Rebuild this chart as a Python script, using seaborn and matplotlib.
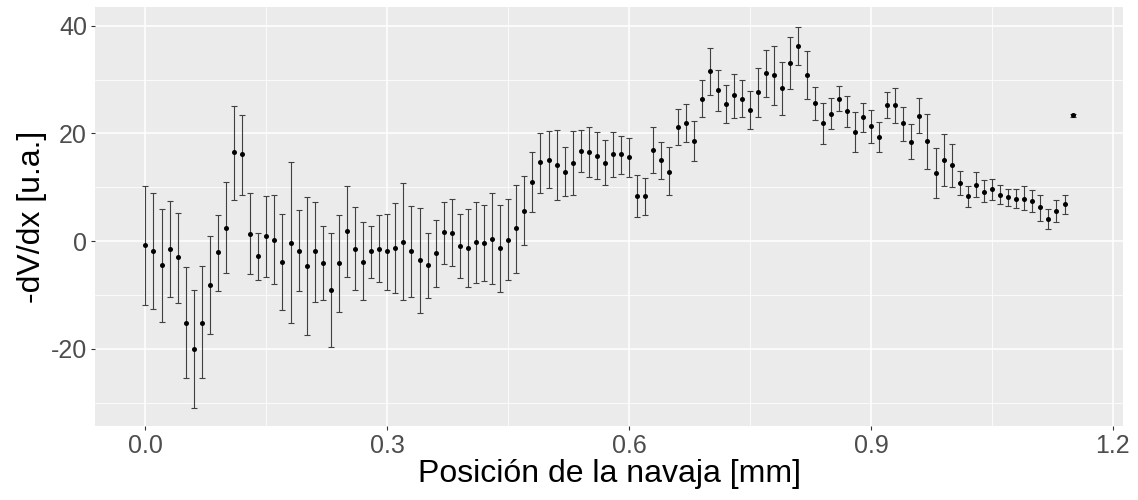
import numpy as np
import pandas as pd
import matplotlib
matplotlib.use("Agg")
import matplotlib.pyplot as plt
import seaborn as sns
from matplotlib.ticker import MultipleLocator

# ---- data ----
posicion = [0.00, 0.01, 0.02, 0.03, 0.04, 0.05, 0.06, 0.07, 0.08, 0.09,
            0.10, 0.11, 0.12, 0.13, 0.14, 0.15, 0.16, 0.17, 0.18, 0.19,
            0.20, 0.21, 0.22, 0.23, 0.24, 0.25, 0.26, 0.27, 0.28, 0.29,
            0.30, 0.31, 0.32, 0.33, 0.34, 0.35, 0.36, 0.37, 0.38, 0.39,
            0.40, 0.41, 0.42, 0.43, 0.44, 0.45, 0.46, 0.47, 0.48, 0.49,
            0.50, 0.51, 0.52, 0.53, 0.54, 0.55, 0.56, 0.57, 0.58, 0.59,
            0.60, 0.61, 0.62, 0.63, 0.64, 0.65, 0.66, 0.67, 0.68, 0.69,
            0.70, 0.71, 0.72, 0.73, 0.74, 0.75, 0.76, 0.77, 0.78, 0.79,
            0.80, 0.81, 0.82, 0.83, 0.84, 0.85, 0.86, 0.87, 0.88, 0.89,
            0.90, 0.91, 0.92, 0.93, 0.94, 0.95, 0.96, 0.97, 0.98, 0.99,
            1.00, 1.01, 1.02, 1.03, 1.04, 1.05, 1.06, 1.07, 1.08, 1.09,
            1.10, 1.11, 1.12, 1.13, 1.14, 1.15]

dvdx = [-0.8, -1.85, -4.5, -1.4, -3.0, -15.1, -20.0, -15.1, -8.1, -2.1,
        2.5, 16.5, 16.1, 1.4, -2.8, 0.9, 0.2, -3.8, -0.3, -1.8,
        -4.6, -1.9, -4.0, -9.0, -4.1, 1.8, -1.4, -3.8, -1.9, -1.4,
        -1.9, -1.2, -0.1, -1.85, -3.5, -4.5, -2.2, 1.7, 1.55, -0.9,
        -1.2, -0.2, -0.3, 0.4, -1.2, 0.3, 2.4, 5.6, 11.0, 14.7,
        15.1, 14.2, 12.9, 14.55, 16.8, 16.5, 15.85, 14.55, 16.1, 16.1,
        15.6, 8.3, 8.3, 17.0, 15.0, 12.8, 21.2, 22.0, 18.6, 26.4,
        31.5, 28.0, 25.5, 27.1, 26.4, 24.3, 27.6, 31.3, 30.8, 28.5,
        33.1, 36.2, 30.8, 25.6, 21.9, 23.65, 26.4, 24.15, 20.2, 23.0,
        21.3, 19.3, 25.3, 25.2, 21.9, 18.45, 23.3, 18.6, 12.7, 15.0,
        14.1, 10.8, 8.3, 10.5, 9.2, 9.7, 8.6, 8.2, 7.9, 7.9,
        7.5, 6.3, 4.1, 5.6, 6.9, 23.35]

dvdx_min = [-11.8, -12.6, -15.0, -10.3, -11.4, -25.4, -30.9, -25.4, -17.3, -9.2,
            -5.9, 7.7, 8.6, -6.0, -7.2, -6.6, -8.0, -12.7, -15.2, -9.3,
            -17.5, -11.2, -10.9, -19.7, -13.2, -6.7, -9.0, -11.0, -6.8, -7.6,
            -9.0, -9.7, -10.9, -10.3, -13.3, -10.6, -8.5, -4.2, -4.6, -6.9,
            -8.5, -7.7, -7.3, -7.9, -9.4, -7.2, -5.9, -0.8, 5.4, 9.0,
            9.8, 7.7, 8.4, 8.6, 12.9, 11.95, 11.5, 10.5, 11.9, 12.45,
            11.9, 4.4, 4.8, 12.6, 11.6, 8.5, 17.9, 18.45, 14.9, 23.1,
            27.2, 24.2, 22.0, 22.9, 23.1, 20.8, 23.1, 26.8, 25.3, 23.5,
            28.3, 32.75, 26.3, 22.5, 18.1, 20.8, 24.1, 21.1, 16.6, 20.3,
            18.3, 16.6, 22.85, 21.9, 18.6, 15.3, 20.1, 13.4, 8.1, 10.3,
            10.0, 8.5, 6.3, 8.2, 7.2, 7.7, 6.9, 6.6, 6.2, 5.7,
            5.4, 3.7, 2.3, 3.6, 5.1, 23.05]

dvdx_max = [10.2, 8.9, 6.0, 7.5, 5.3, -4.8, -9.1, -4.6, 1.0, 4.9,
            10.9, 25.1, 23.4, 8.9, 1.6, 8.4, 8.5, 5.1, 14.6, 5.7,
            8.2, 7.3, 2.9, 1.6, 4.8, 10.2, 6.3, 3.6, 2.9, 4.9,
            5.1, 7.1, 10.8, 6.6, 6.2, 1.6, 4.0, 7.3, 7.8, 5.1,
            6.0, 7.2, 6.7, 8.9, 6.8, 7.8, 10.5, 12.1, 16.5, 20.1,
            20.4, 20.6, 17.4, 20.4, 20.7, 21.2, 20.3, 18.8, 20.25, 19.5,
            19.2, 12.2, 11.8, 21.2, 18.4, 17.4, 24.5, 25.45, 22.35, 29.9,
            35.85, 31.8, 29.0, 31.1, 29.9, 27.9, 32.1, 35.5, 36.2, 33.25,
            37.8, 39.8, 35.2, 28.7, 25.6, 26.6, 28.8, 27.0, 24.0, 25.7,
            24.3, 22.1, 27.7, 28.4, 24.9, 21.7, 26.6, 23.6, 17.3, 19.8,
            18.0, 13.1, 10.2, 12.8, 11.3, 11.6, 10.4, 9.7, 9.7, 10.2,
            9.5, 8.6, 6.0, 7.7, 8.5, 23.65]

x_ticks = [0.0, 0.3, 0.6, 0.9, 1.2]
x_ticklabels = ["0.0", "0.3", "0.6", "0.9", "1.2"]
y_ticks = [-20, 0, 20, 40]
y_ticklabels = ["-20", "0", "20", "40"]

df = pd.DataFrame({"pos": posicion, "y": dvdx, "ymin": dvdx_min, "ymax": dvdx_max})

# ---- style (ggplot2 theme_gray look) ----
sns.set_theme(style="darkgrid", rc={
    "axes.facecolor": "#EBEBEB",
    "figure.facecolor": "white",
    "grid.color": "white",
    "axes.edgecolor": "#EBEBEB",
})
plt.rcParams["font.family"] = ["Liberation Sans", "DejaVu Sans"]

fig = plt.figure(figsize=(11.38, 5.0), dpi=100)
ax = fig.add_axes([95 / 1138, 1 - 426 / 500, (1123 - 95) / 1138, (426 - 7.3) / 500])

# error bars
ax.errorbar(df["pos"], df["y"],
            yerr=[df["y"] - df["ymin"], df["ymax"] - df["y"]],
            fmt="none", ecolor="#404040", elinewidth=0.8, capsize=2.4,
            capthick=0.8, zorder=3)

# points
sns.scatterplot(data=df, x="pos", y="y", ax=ax, color="black", s=13,
                edgecolor="black", linewidth=0, zorder=4)

ax.set_xlim(-0.0625, 1.2125)
ax.set_ylim(-34.3, 43.4)

ax.set_xticks(x_ticks)
ax.set_xticklabels(x_ticklabels)
ax.set_yticks(y_ticks)
ax.set_yticklabels(y_ticklabels)
ax.xaxis.set_minor_locator(MultipleLocator(0.15))
ax.yaxis.set_minor_locator(MultipleLocator(10))

ax.grid(which="major", color="white", linewidth=1.1)
ax.grid(which="minor", color="white", linewidth=0.55)
ax.set_axisbelow(True)

for s in ax.spines.values():
    s.set_visible(False)

ax.tick_params(axis="both", which="major", length=3.2, width=0.8, color="#333333",
               labelsize=18, labelcolor="#4D4D4D", pad=2.5, direction="out",
               bottom=True, left=True)
ax.tick_params(axis="both", which="minor", length=0)

ax.set_xlabel("Posición de la navaja [mm]", fontsize=23, color="black", labelpad=1)
ax.set_ylabel("-dV/dx [u.a.]", fontsize=23, color="black", labelpad=2.5)

fig.savefig("out.png", dpi=100)
